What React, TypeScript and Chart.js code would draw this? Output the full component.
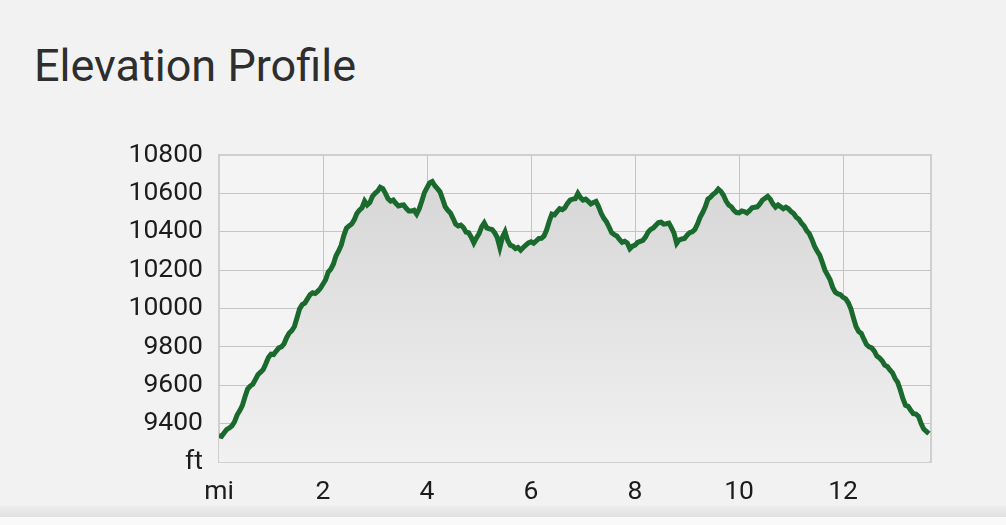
import { useEffect, useRef } from "react";
import { Chart, registerables } from "chart.js";

Chart.register(...registerables);

const distanceMi = [
  0.0, 0.05, 0.1, 0.15, 0.2, 0.25, 0.3, 0.35, 0.4, 0.45, 0.5, 0.55, 0.6, 0.65, 0.7, 0.75, 0.8, 0.85, 0.9, 0.95,
  1.0, 1.05, 1.1, 1.15, 1.2, 1.25, 1.3, 1.35, 1.4, 1.45, 1.5, 1.55, 1.6, 1.65, 1.7, 1.75, 1.8, 1.85, 1.9, 1.95,
  2.0, 2.05, 2.1, 2.15, 2.2, 2.25, 2.3, 2.35, 2.4, 2.45, 2.5, 2.55, 2.6, 2.65, 2.7, 2.75, 2.8, 2.85, 2.9, 2.95,
  3.0, 3.05, 3.1, 3.15, 3.2, 3.25, 3.3, 3.35, 3.4, 3.45, 3.5, 3.55, 3.6, 3.65, 3.7, 3.75, 3.8, 3.85, 3.9, 3.95,
  4.0, 4.05, 4.1, 4.15, 4.2, 4.25, 4.3, 4.35, 4.4, 4.45, 4.5, 4.55, 4.6, 4.65, 4.7, 4.75, 4.8, 4.85, 4.9, 4.95,
  5.0, 5.05, 5.1, 5.15, 5.2, 5.25, 5.3, 5.35, 5.4, 5.45, 5.5, 5.55, 5.6, 5.65, 5.7, 5.75, 5.8, 5.85, 5.9, 5.95,
  6.0, 6.05, 6.1, 6.15, 6.2, 6.25, 6.3, 6.35, 6.4, 6.45, 6.5, 6.55, 6.6, 6.65, 6.7, 6.75, 6.8, 6.85, 6.9, 6.95,
  7.0, 7.05, 7.1, 7.15, 7.2, 7.25, 7.3, 7.35, 7.4, 7.45, 7.5, 7.55, 7.6, 7.65, 7.7, 7.75, 7.8, 7.85, 7.9, 7.95,
  8.0, 8.05, 8.1, 8.15, 8.2, 8.25, 8.3, 8.35, 8.4, 8.45, 8.5, 8.55, 8.6, 8.65, 8.7, 8.75, 8.8, 8.85, 8.9, 8.95,
  9.0, 9.05, 9.1, 9.15, 9.2, 9.25, 9.3, 9.35, 9.4, 9.45, 9.5, 9.55, 9.6, 9.65, 9.7, 9.75, 9.8, 9.85, 9.9, 9.95,
  10.0, 10.05, 10.1, 10.15, 10.2, 10.25, 10.3, 10.35, 10.4, 10.45, 10.5, 10.55, 10.6, 10.65, 10.7, 10.75, 10.8, 10.85, 10.9, 10.95,
  11.0, 11.05, 11.1, 11.15, 11.2, 11.25, 11.3, 11.35, 11.4, 11.45, 11.5, 11.55, 11.6, 11.65, 11.7, 11.75, 11.8, 11.85, 11.9, 11.95,
  12.0, 12.05, 12.1, 12.15, 12.2, 12.25, 12.3, 12.35, 12.4, 12.45, 12.5, 12.55, 12.6, 12.65, 12.7, 12.75, 12.8, 12.85, 12.9, 12.95,
  13.0, 13.05, 13.1, 13.15, 13.2, 13.25, 13.3, 13.35, 13.4, 13.45, 13.5, 13.55, 13.6, 13.65,
];

const elevationFt = [
  9338, 9334, 9352, 9370, 9378, 9389, 9410, 9446, 9468, 9495, 9540, 9580, 9596, 9605, 9630, 9656, 9668, 9682, 9712, 9745,
  9762, 9760, 9778, 9795, 9800, 9816, 9848, 9872, 9885, 9906, 9952, 9998, 10020, 10028, 10050, 10072, 10082, 10078, 10090, 10105,
  10128, 10150, 10190, 10205, 10232, 10275, 10300, 10330, 10380, 10418, 10430, 10440, 10462, 10495, 10512, 10525, 10560, 10540, 10552, 10585,
  10600, 10612, 10632, 10625, 10600, 10572, 10560, 10565, 10548, 10534, 10538, 10540, 10522, 10508, 10508, 10512, 10492, 10520, 10560, 10604,
  10630, 10655, 10662, 10640, 10625, 10608, 10570, 10530, 10512, 10498, 10470, 10440, 10430, 10435, 10422, 10398, 10395, 10372, 10342, 10368,
  10390, 10425, 10446, 10420, 10415, 10412, 10395, 10370, 10318, 10372, 10400, 10355, 10330, 10325, 10312, 10318, 10304, 10318, 10330, 10342,
  10348, 10340, 10352, 10365, 10366, 10378, 10410, 10455, 10492, 10488, 10505, 10520, 10515, 10525, 10548, 10565, 10570, 10572, 10600, 10578,
  10565, 10570, 10558, 10545, 10552, 10558, 10530, 10495, 10470, 10452, 10425, 10395, 10385, 10378, 10360, 10345, 10350, 10342, 10312, 10325,
  10330, 10345, 10350, 10355, 10372, 10398, 10412, 10420, 10434, 10448, 10450, 10440, 10442, 10445, 10420, 10392, 10340, 10358, 10362, 10365,
  10382, 10395, 10400, 10412, 10440, 10475, 10500, 10530, 10570, 10580, 10595, 10605, 10622, 10610, 10590, 10560, 10540, 10530, 10512, 10500,
  10498, 10508, 10505, 10498, 10510, 10525, 10528, 10530, 10545, 10565, 10575, 10585, 10570, 10545, 10528, 10540, 10530, 10520, 10528, 10520,
  10505, 10495, 10475, 10465, 10445, 10430, 10405, 10390, 10360, 10325, 10300, 10278, 10240, 10200, 10175, 10150, 10110, 10085, 10076, 10072,
  10058, 10050, 10030, 9998, 9950, 9905, 9880, 9870, 9840, 9812, 9800, 9795, 9778, 9752, 9742, 9728, 9705, 9698, 9680, 9665,
  9635, 9615, 9575, 9530, 9495, 9490, 9470, 9452, 9450, 9438, 9400, 9372, 9360, 9348,
];

const xAxisMax = 13.69;
const xTickStep = 2;
const yAxisMin = 9200;
const yAxisMax = 10800;
const yTickStep = 200;
const xUnitLabel = "mi";
const yUnitLabel = "ft";
const titleText = "Elevation Profile";

const plotFrame = {
  id: "plotFrame",
  beforeDraw(chart: any) {
    const { ctx, chartArea: a } = chart;
    ctx.save();
    ctx.fillStyle = "#f4f4f4";
    ctx.fillRect(a.left, a.top, a.right - a.left, a.bottom - a.top);
    ctx.restore();
  },
  beforeDatasetsDraw(chart: any) {
    const { ctx, chartArea: a } = chart;
    ctx.save();
    ctx.strokeStyle = "#cfcfcf";
    ctx.lineWidth = 2;
    ctx.beginPath();
    ctx.moveTo(a.left, a.top);
    ctx.lineTo(a.right, a.top);
    ctx.lineTo(a.right, a.bottom);
    ctx.stroke();
    ctx.restore();
  },
};

export default function App() {
  const ref = useRef<HTMLCanvasElement>(null);

  useEffect(() => {
    const canvas = ref.current;
    if (!canvas) return;
    const points = distanceMi.map((x, i) => ({ x, y: elevationFt[i] }));
    const tickFont = { family: "Roboto", size: 26.5 };
    const chart = new Chart(canvas, {
      type: "line",
      data: {
        datasets: [
          {
            data: points,
            borderColor: "#1a692d",
            borderWidth: 5,
            pointRadius: 0,
            tension: 0,
            fill: "start",
            backgroundColor: (c: any) => {
              const area = c.chart.chartArea;
              if (!area) return "#dddddd";
              const g = c.chart.ctx.createLinearGradient(0, area.top, 0, area.bottom);
              g.addColorStop(0, "#d4d4d4");
              g.addColorStop(1, "#f1f1f1");
              return g;
            },
          },
        ],
      },
      options: {
        responsive: false,
        animation: false,
        layout: { padding: { top: 155, right: 75, left: 0, bottom: 0 } },
        plugins: {
          legend: { display: false },
          tooltip: { enabled: false },
          title: { display: false },
        },
        scales: {
          x: {
            type: "linear",
            min: 0,
            max: xAxisMax,
            ticks: {
              stepSize: xTickStep,
              includeBounds: false,
              maxRotation: 0,
              autoSkip: false,
              padding: 14,
              color: "#1c1c1c",
              font: tickFont,
              callback: (v: any) => (v === 0 ? xUnitLabel : String(v)),
            },
            grid: { color: "#c4c4c4", lineWidth: 1, drawTicks: false },
            border: { color: "#cfcfcf", width: 2 },
            afterFit: (s: any) => {
              s.height = 63;
            },
          },
          y: {
            type: "linear",
            min: yAxisMin,
            max: yAxisMax,
            ticks: {
              stepSize: yTickStep,
              padding: 16,
              color: "#1c1c1c",
              font: tickFont,
              callback: (v: any) => (v === yAxisMin ? yUnitLabel : String(v)),
            },
            grid: { color: "#c4c4c4", lineWidth: 1, drawTicks: false },
            border: { color: "#cfcfcf", width: 2 },
            afterFit: (s: any) => {
              s.width = 219;
            },
          },
        },
      },
      plugins: [plotFrame],
    });
    return () => chart.destroy();
  }, []);

  return (
    <div
      style={{
        position: "absolute",
        left: 0,
        top: 0,
        width: 1006,
        height: 525,
        background: "#f2f2f2",
        overflow: "hidden",
      }}
    >
      <div
        style={{
          position: "absolute",
          left: 34,
          top: 43,
          fontFamily: "Roboto",
          fontSize: 45,
          lineHeight: 1,
          color: "#2e2e2e",
          whiteSpace: "nowrap",
        }}
      >
        {titleText}
      </div>
      <canvas
        ref={ref}
        width={1006}
        height={525}
        style={{ position: "absolute", left: 0, top: 0, width: 1006, height: 525 }}
      />
      <div
        style={{
          position: "absolute",
          left: 0,
          top: 506,
          width: 1006,
          height: 11,
          background: "linear-gradient(#ececec, #e1e1e1)",
        }}
      />
      <div
        style={{
          position: "absolute",
          left: 0,
          top: 517,
          width: 1006,
          height: 8,
          background: "#f9f9f9",
        }}
      />
    </div>
  );
}
